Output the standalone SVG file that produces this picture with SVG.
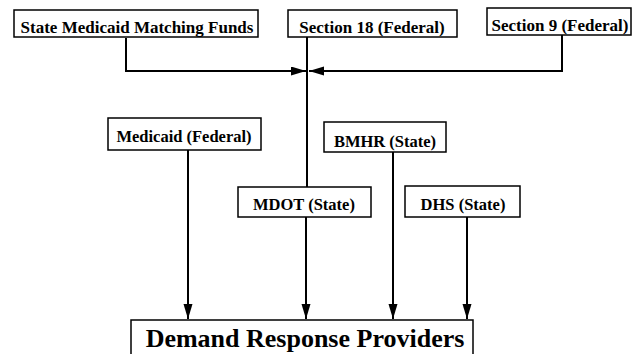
<svg xmlns="http://www.w3.org/2000/svg" width="632" height="354" viewBox="0 0 632 354">
<style>
.box{fill:#fff;stroke:#000;stroke-width:1.5}
.t{font-family:"Liberation Serif","Times New Roman",serif;font-weight:bold;font-size:16.5px;fill:#000;text-anchor:middle}
.top{font-size:17px}
.big{font-size:26px}
.c{fill:none;stroke:#000;stroke-width:2}
</style>
<defs>
<marker id="ah" markerUnits="userSpaceOnUse" markerWidth="16" markerHeight="10" refX="15" refY="4.5" orient="auto">
<path d="M0,0 L15,4.5 L0,9 Z" fill="#000"/>
</marker>
</defs>
<rect width="632" height="354" fill="#fff"/>
<g id="connectors">
<polyline class="c" points="126,38 126,71 306,71" marker-end="url(#ah)"/>
<polyline class="c" points="562,35 562,71 309,71" marker-end="url(#ah)"/>
<line class="c" x1="307" y1="37" x2="307" y2="187"/>
<line class="c" x1="188" y1="150" x2="188" y2="319" marker-end="url(#ah)"/>
<line class="c" x1="306" y1="217" x2="306" y2="319" marker-end="url(#ah)"/>
<line class="c" x1="393" y1="152" x2="393" y2="319" marker-end="url(#ah)"/>
<line class="c" x1="467" y1="217" x2="467" y2="319" marker-end="url(#ah)"/>
</g>
<g id="state-medicaid">
<rect class="box" x="14" y="10" width="244" height="27"/>
<text class="t top" x="137" y="33">State Medicaid Matching Funds</text>
</g>
<g id="section18">
<rect class="box" x="288" y="10" width="169" height="27"/>
<text class="t top" x="372" y="33">Section 18 (Federal)</text>
</g>
<g id="section9">
<rect class="box" x="487" y="8" width="144" height="27"/>
<text class="t top" x="560" y="31">Section 9 (Federal)</text>
</g>
<g id="medicaid-federal">
<rect class="box" x="108" y="118" width="153" height="32"/>
<text class="t" x="184" y="142">Medicaid (Federal)</text>
</g>
<g id="bmhr">
<rect class="box" x="324" y="122" width="122" height="30"/>
<text class="t" x="385" y="147">BMHR (State)</text>
</g>
<g id="mdot">
<rect class="box" x="238" y="187" width="133" height="30"/>
<text class="t" x="304" y="210">MDOT (State)</text>
</g>
<g id="dhs">
<rect class="box" x="405" y="186" width="115" height="31"/>
<text class="t" x="463" y="210">DHS (State)</text>
</g>
<g id="providers">
<rect class="box" x="131" y="320" width="342" height="40"/>
<text class="t big" x="305" y="347">Demand Response Providers</text>
</g>
</svg>
